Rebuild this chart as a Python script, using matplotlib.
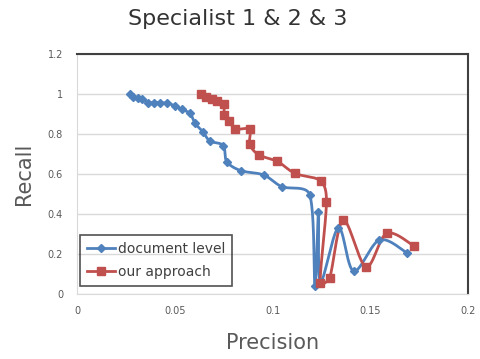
import numpy as np
import matplotlib
matplotlib.use('Agg')
import matplotlib.pyplot as plt

# values
doc_precision = [0.0271, 0.0288, 0.0314, 0.0330, 0.0365, 0.0394, 0.0425, 0.0462, 0.0500,
                 0.0535, 0.0578, 0.0604, 0.0643, 0.0680, 0.0748, 0.0766, 0.0837, 0.0955,
                 0.1047, 0.1190, 0.1217, 0.1235, 0.1245, 0.1337, 0.1415, 0.1547, 0.1686]
doc_recall = [1.000, 0.987, 0.978, 0.975, 0.957, 0.957, 0.957, 0.953, 0.942,
              0.923, 0.903, 0.853, 0.812, 0.765, 0.742, 0.662, 0.617, 0.595,
              0.537, 0.497, 0.040, 0.410, 0.060, 0.330, 0.115, 0.270, 0.207]

our_precision = [0.0633, 0.0660, 0.0689, 0.0718, 0.0752, 0.0752, 0.0780, 0.0808, 0.0883,
                 0.0883, 0.0929, 0.1025, 0.1115, 0.1247, 0.1276, 0.1244, 0.1292, 0.1362,
                 0.1478, 0.1584, 0.1724]
our_recall = [1.000, 0.987, 0.973, 0.967, 0.948, 0.895, 0.866, 0.825, 0.824,
              0.750, 0.696, 0.663, 0.603, 0.565, 0.460, 0.055, 0.080, 0.368,
              0.137, 0.303, 0.240]

series_names = ['document level', 'our approach']
series_colors = ['#4F81BD', '#C0504D']
x_ticks = [0, 0.05, 0.1, 0.15, 0.2]
x_tick_labels = ['0', '0.05', '0.1', '0.15', '0.2']
y_ticks = [0, 0.2, 0.4, 0.6, 0.8, 1, 1.2]
y_tick_labels = ['0', '0.2', '0.4', '0.6', '0.8', '1', '1.2']

# rough pixel size of one data unit, so the smoothing works in screen space
SX, SY = 1955.0, 200.0


def smooth(xs, ys, n=40, cap=0.35):
    "excel-like smoothed line: catmull-rom style bezier, control arms capped by segment length"
    p = np.column_stack([np.array(xs) * SX, np.array(ys) * SY])
    m = len(p)
    out = [p[0]]
    for i in range(m - 1):
        d = np.hypot(*(p[i + 1] - p[i]))
        p0 = p[i - 1] if i > 0 else p[i]
        p3 = p[i + 2] if i + 2 < m else p[i + 1]
        a1 = (p[i + 1] - p0) / 6
        a2 = (p3 - p[i]) / 6
        for a in (a1, a2):
            ln = np.hypot(*a)
            if ln > cap * d:
                a *= cap * d / ln
        c1 = p[i] + a1
        c2 = p[i + 1] - a2
        t = np.linspace(0, 1, n)[1:, None]
        seg = ((1 - t) ** 3) * p[i] + 3 * ((1 - t) ** 2) * t * c1 + 3 * (1 - t) * t ** 2 * c2 + t ** 3 * p[i + 1]
        out.extend(seg)
    out = np.array(out)
    return out[:, 0] / SX, out[:, 1] / SY


fig = plt.figure(figsize=(4.81, 3.59), dpi=100)
ax = fig.add_axes([77 / 481, 65 / 359, 391 / 481, 240 / 359])

for xs, ys, name, col, mk, ms in [(doc_precision, doc_recall, series_names[0], series_colors[0], 'D', 4),
                                   (our_precision, our_recall, series_names[1], series_colors[1], 's', 6)]:
    sx, sy = smooth(xs, ys)
    ax.plot(sx, sy, color=col, lw=2, zorder=3)
    ax.plot(xs, ys, linestyle='none', marker=mk, ms=ms, color=col, zorder=4)
    ax.plot([], [], color=col, lw=2, marker=mk, ms=ms, label=name)

ax.set_xlim(0, 0.2)
ax.set_ylim(0, 1.2)
ax.set_xticks(x_ticks)
ax.set_xticklabels(x_tick_labels)
ax.set_yticks(y_ticks)
ax.set_yticklabels(y_tick_labels)
ax.tick_params(length=0, labelsize=7, colors='#595959')
ax.tick_params(axis='x', pad=9)
ax.tick_params(axis='y', pad=10)
ax.yaxis.grid(True, color='#d9d9d9', lw=1)
ax.set_axisbelow(True)
ax.spines['left'].set_color('#d9d9d9')
ax.spines['bottom'].set_color('#d9d9d9')
ax.spines['top'].set_color('#404040')
ax.spines['right'].set_color('#404040')
ax.spines['top'].set_linewidth(1.5)
ax.spines['right'].set_linewidth(1.5)

ax.set_xlabel('Precision', fontsize=15, color='#595959', labelpad=12)
ax.set_ylabel('Recall', fontsize=15, color='#595959', labelpad=10)
fig.text(0.495, 0.948, 'Specialist 1 & 2 & 3', fontsize=16, color='#333333', ha='center', va='center')

leg = ax.legend(loc='lower left', bbox_to_anchor=(0.008, 0.033), borderaxespad=0, fontsize=10,
                frameon=True, fancybox=False, handlelength=2.0, handletextpad=0.2, borderpad=0.5,
                labelspacing=0.65, labelcolor='#404040')
leg.get_frame().set_edgecolor('#262626')
leg.get_frame().set_facecolor('none')
leg.get_frame().set_linewidth(1.2)

plt.savefig('out.png', dpi=100)
